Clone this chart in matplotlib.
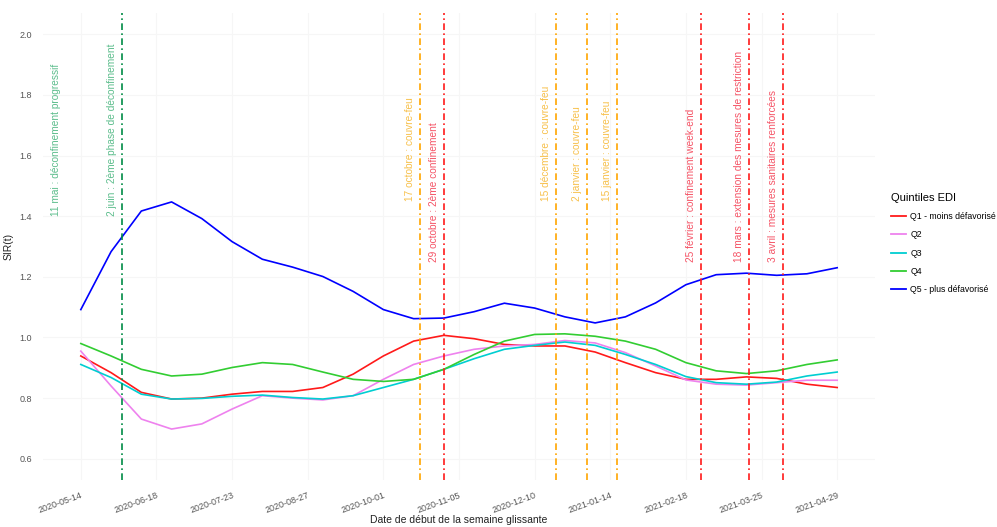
import matplotlib
matplotlib.use("Agg")
import matplotlib.pyplot as plt
import numpy as np
import pandas as pd

plt.rcParams['font.family'] = ['Liberation Sans', 'DejaVu Sans']

# dates de début de semaine glissante (tous les 14 jours)
dates = pd.date_range("2020-05-14", "2021-04-29", freq="14D")

# SIR(t), par quintile EDI
q1 = [0.939, 0.884, 0.819, 0.797, 0.800, 0.813, 0.822, 0.822, 0.835, 0.879, 0.939, 0.988, 1.007,
      0.996, 0.977, 0.972, 0.972, 0.952, 0.917, 0.884, 0.862, 0.862, 0.870, 0.865, 0.846, 0.835]
q2 = [0.955, 0.840, 0.731, 0.698, 0.715, 0.764, 0.808, 0.800, 0.794, 0.808, 0.862, 0.911, 0.939,
      0.961, 0.972, 0.977, 0.990, 0.982, 0.950, 0.906, 0.860, 0.846, 0.843, 0.851, 0.859, 0.859]
q3 = [0.911, 0.868, 0.813, 0.797, 0.799, 0.806, 0.810, 0.802, 0.797, 0.808, 0.835, 0.862, 0.895,
      0.930, 0.961, 0.974, 0.985, 0.974, 0.944, 0.911, 0.871, 0.851, 0.846, 0.853, 0.873, 0.886]
q4 = [0.980, 0.939, 0.895, 0.873, 0.879, 0.901, 0.917, 0.911, 0.886, 0.862, 0.855, 0.862, 0.895,
      0.944, 0.988, 1.010, 1.012, 1.004, 0.988, 0.961, 0.917, 0.890, 0.881, 0.890, 0.911, 0.926]
q5 = [1.092, 1.283, 1.417, 1.447, 1.392, 1.316, 1.258, 1.232, 1.201, 1.152, 1.092, 1.062, 1.064,
      1.085, 1.113, 1.097, 1.068, 1.048, 1.068, 1.114, 1.174, 1.207, 1.212, 1.205, 1.210, 1.230]

series = [q1, q2, q3, q4, q5]
labels = ["Q1 - moins défavorisé", "Q2", "Q3", "Q4", "Q5 - plus défavorisé"]
colors = ["#ff1a1a", "violet", "darkturquoise", "limegreen", "blue"]

# événements (date de la ligne, texte, type)
ev_dates = ["2020-05-07", "2020-06-02", "2020-10-18", "2020-10-29", "2020-12-20",
            "2021-01-03", "2021-01-17", "2021-02-25", "2021-03-19", "2021-04-04"]
ev_text = ["11 mai : déconfinement progressif",
           "2 juin : 2ème phase de déconfinement",
           "17 octobre : couvre-feu",
           "29 octobre : 2ème confinement",
           "15 décembre : couvre-feu",
           "2 janvier : couvre-feu",
           "15 janvier : couvre-feu",
           "25 février : confinement week-end",
           "18 mars : extension des mesures de restriction",
           "3 avril : mesures sanitaires renforcées"]
ev_kind = ["deconf", "deconf", "cf", "conf", "cf", "cf", "cf", "conf", "conf", "conf"]
ev_line = [False, True, True, True, True, True, True, True, True, True]

line_col = {"deconf": "#008B45", "cf": "#FFA500", "conf": "#FF1a1a"}
text_col = {"deconf": "#5cbd8c", "cf": "#f7c04a", "conf": "#f55466"}
text_y = {"deconf": 1.40, "cf": 1.45, "conf": 1.25}

fig = plt.figure(figsize=(9.97, 5.27), dpi=100)
ax = fig.add_axes([43 / 997, 47 / 527, 832 / 997, 467 / 527])

for s, lab, c in zip(series, labels, colors):
    ax.plot(dates, s, color=c, lw=1.2, label=lab)

for d, t, k, show in zip(ev_dates, ev_text, ev_kind, ev_line):
    d = pd.Timestamp(d)
    if show:
        ax.axvline(d, color=line_col[k], lw=1.2, linestyle=(0, (4, 2, 1, 2)))
    ax.annotate(t, xy=(d, text_y[k]), xytext=(-7.2, 0), textcoords="offset points",
                rotation=90, ha="center", va="bottom", fontsize=7.3, color=text_col[k])

pad = pd.Timedelta(days=17.5)
ax.set_xlim(dates[0] - pad, dates[-1] + pad)
ax.set_ylim(0.53, 2.07)

xt = pd.date_range("2020-05-14", "2021-04-29", freq="35D")
ax.set_xticks(xt)
ax.set_xticklabels([d.strftime("%Y-%m-%d") for d in xt])
ax.set_yticks(np.arange(0.6, 2.01, 0.2))
ax.yaxis.set_major_formatter(matplotlib.ticker.FormatStrFormatter("%.1f"))
plt.setp(ax.get_xticklabels(), rotation=20, ha="right", rotation_mode="anchor")
ax.tick_params(length=0, labelsize=6.5, labelcolor="#555555")
ax.tick_params(axis="x", pad=8)
ax.tick_params(axis="y", pad=8)

for sp in ax.spines.values():
    sp.set_visible(False)
ax.grid(color="#f6f6f6", lw=0.8)
ax.set_axisbelow(True)

ax.set_xlabel("Date de début de la semaine glissante", fontsize=7.5, color="#222222", labelpad=0)
ax.set_ylabel("SIR(t)", fontsize=7.5, color="#222222", labelpad=4)

leg = ax.legend(loc="upper left", bbox_to_anchor=(891 / 997, 1 - 193 / 527),
                bbox_transform=fig.transFigure, frameon=False, title="Quintiles EDI",
                fontsize=6.3, title_fontsize=8, handlelength=1.75, handletextpad=0.45,
                labelspacing=1.05, alignment="left", borderaxespad=0, borderpad=0)
for h in leg.legend_handles:
    h.set_linewidth(1.3)

fig.savefig("out.png", dpi=100)
